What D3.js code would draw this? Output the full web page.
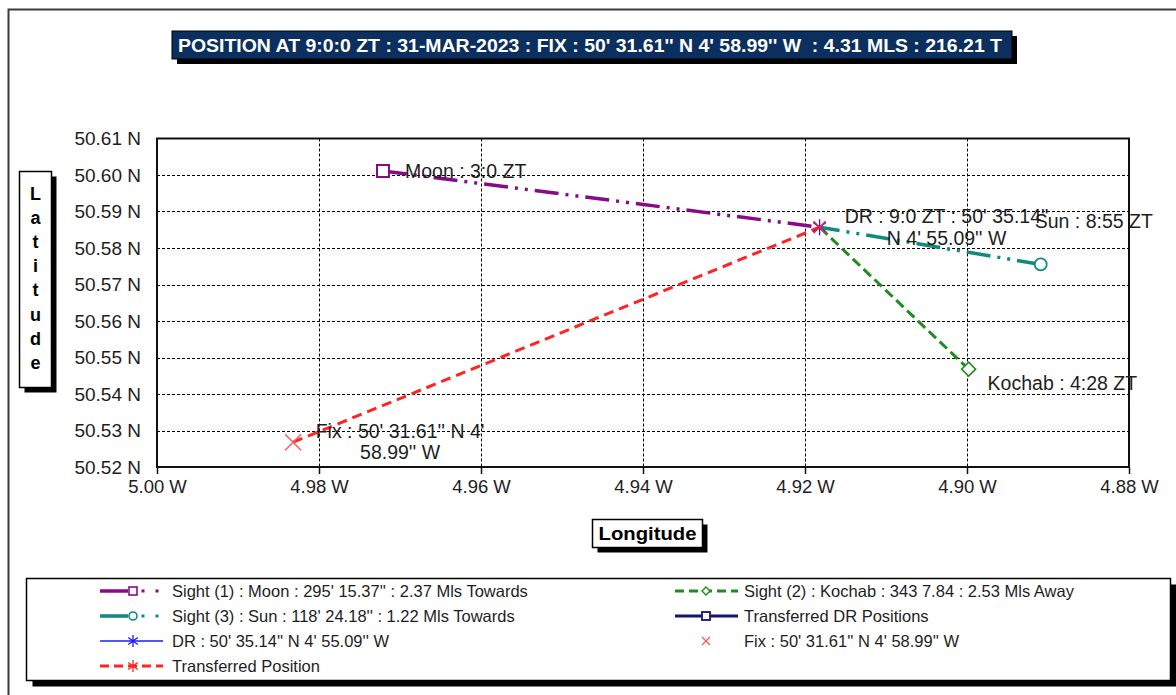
<!DOCTYPE html>
<html>
<head>
<meta charset="utf-8">
<script src="https://cdn.jsdelivr.net/npm/d3@7/dist/d3.min.js"></script>
<style>
  body { margin: 0; background: #fff; }
  svg { display: block; font-family: Arial, "Liberation Sans", sans-serif; }
  text { white-space: pre; }
</style>
</head>
<body>
<svg id="chart" width="1176" height="695"></svg>
<script>
// ---- data ----
const lonTicks = [5.00, 4.98, 4.96, 4.94, 4.92, 4.90, 4.88];
const latTicks = [50.52, 50.53, 50.54, 50.55, 50.56, 50.57, 50.58, 50.59, 50.60, 50.61];

const sightNames  = ["Moon", "Kochab", "Sun"];
const sightLon    = [4.9721, 4.8998, 4.8909];
const sightLat    = [50.6011, 50.5468, 50.5755];
const sightLabels = ["Moon : 3:0 ZT", "Kochab : 4:28 ZT", "Sun : 8:55 ZT"];

const drLon = 4.9182, drLat = 50.5857;
const fixLon = 4.9832, fixLat = 50.5268;
const drLabel  = ["DR : 9:0 ZT : 50' 35.14''", "N 4' 55.09'' W"];
const fixLabel = ["Fix : 50' 31.61'' N 4'", "58.99'' W"];

const titleText = "POSITION AT 9:0:0 ZT : 31-MAR-2023 : FIX : 50' 31.61'' N 4' 58.99'' W  : 4.31 MLS : 216.21 T";

const legendLeft = [
  "Sight (1) : Moon : 295' 15.37'' : 2.37 Mls Towards",
  "Sight (3) : Sun : 118' 24.18'' : 1.22 Mls Towards",
  "DR : 50' 35.14'' N 4' 55.09'' W",
  "Transferred Position"
];
const legendRight = [
  "Sight (2) : Kochab : 343 7.84 : 2.53 Mls Away",
  "Transferred DR Positions",
  "Fix : 50' 31.61'' N 4' 58.99'' W"
];

// ---- styles ----
const C = {
  moon: "#870a87", kochab: "#1f8c1f", sun: "#0f8a7e", dr: "#1a1aff",
  red: "#ff2424", fix: "#ff5a5a", navy: "#14146e", text: "#1e1e1e"
};
const dashDotDot = "24,7,3,7,3,7";

const svg = d3.select("#chart");
const x = d3.scaleLinear().domain([5.00, 4.88]).range([157, 1129]);
const y = d3.scaleLinear().domain([50.52, 50.61]).range([467, 138.5]);

// outer frame
svg.append("rect").attr("x", 8.5).attr("y", 9.5).attr("width", 1200).attr("height", 720)
  .attr("fill", "#fff").attr("stroke", "#3a3a3a").attr("stroke-width", 2);

// title banner
const tb = { x: 172, y: 31, w: 840, h: 28 };
svg.append("rect").attr("x", tb.x + 5).attr("y", tb.y + 5).attr("width", tb.w).attr("height", tb.h).attr("fill", "#000");
svg.append("rect").attr("x", tb.x).attr("y", tb.y).attr("width", tb.w).attr("height", tb.h)
  .attr("fill", "#0b2f5e").attr("stroke", "#000").attr("stroke-width", 1);
svg.append("text").attr("x", tb.x + 6).attr("y", tb.y + 21)
  .attr("font-family", "'Liberation Sans Narrow', 'Arial Narrow', Arial, sans-serif")
  .attr("font-weight", "bold").attr("font-size", 19).attr("fill", "#fff")
  .attr("textLength", 824).attr("lengthAdjust", "spacingAndGlyphs")
  .text(titleText);

// grid
const grid = svg.append("g").attr("stroke", "#000").attr("stroke-width", 1).attr("stroke-dasharray", "3,2");
grid.selectAll(".gx").data(lonTicks.slice(1, -1)).join("line")
  .attr("x1", d => Math.round(x(d)) + 0.5).attr("x2", d => Math.round(x(d)) + 0.5)
  .attr("y1", y(50.61)).attr("y2", y(50.52));
grid.selectAll(".gy").data(latTicks.slice(1, -1)).join("line")
  .attr("y1", d => Math.round(y(d)) + 0.5).attr("y2", d => Math.round(y(d)) + 0.5)
  .attr("x1", x(5.00)).attr("x2", x(4.88));

// axes
const xAxis = d3.axisBottom(x).tickValues(lonTicks).tickSize(7).tickPadding(6)
  .tickFormat(d => d.toFixed(2) + " W");
const yAxis = d3.axisLeft(y).tickValues(latTicks).tickSize(0).tickPadding(16)
  .tickFormat(d => d.toFixed(2) + " N");

const gx = svg.append("g").attr("transform", `translate(0,${y(50.52)})`).call(xAxis);
const gy = svg.append("g").attr("transform", `translate(${x(5.00)},0)`).call(yAxis);
[gx, gy].forEach(g => {
  g.select(".domain").remove();
  g.selectAll("text").attr("fill", C.text).attr("font-family", "Arial, 'Liberation Sans', sans-serif");
  g.selectAll("line").attr("stroke", "#111").attr("stroke-width", 1.5);
});
gx.selectAll("text").attr("font-size", 18.5);
gy.selectAll("text").attr("font-size", 19);

// plot frame
svg.append("rect").attr("x", x(5.00)).attr("y", y(50.61))
  .attr("width", x(4.88) - x(5.00)).attr("height", y(50.52) - y(50.61))
  .attr("fill", "none").attr("stroke", "#111").attr("stroke-width", 2);

// axis titles (boxed with drop shadow)
function shadowBox(bx, by, bw, bh) {
  svg.append("rect").attr("x", bx + 5).attr("y", by + 5).attr("width", bw).attr("height", bh).attr("fill", "#000");
  svg.append("rect").attr("x", bx).attr("y", by).attr("width", bw).attr("height", bh)
    .attr("fill", "#fff").attr("stroke", "#000").attr("stroke-width", 1.5);
}
shadowBox(19.5, 171.5, 32, 216);
const latLetters = "Latitude".split("");
svg.append("g").selectAll("text").data(latLetters).join("text")
  .attr("x", 35.5).attr("y", (d, i) => 200 + i * 24.1)
  .attr("text-anchor", "middle").attr("font-weight", "bold").attr("font-size", 18)
  .attr("fill", "#000").text(d => d);

shadowBox(592.5, 519.5, 110, 28);
svg.append("text").attr("x", 647.5).attr("y", 540).attr("text-anchor", "middle")
  .attr("font-weight", "bold").attr("font-size", 18).attr("fill", "#000")
  .attr("textLength", 98).attr("lengthAdjust", "spacingAndGlyphs").text("Longitude");

// ---- lines of position ----
const line = d3.line().x(d => x(d[0])).y(d => y(d[1]));
const lineStyles = [
  { color: C.moon, dash: dashDotDot, w: 3.5 },
  { color: C.kochab, dash: "10,5", w: 3 },
  { color: C.sun, dash: dashDotDot, w: 3.5 }
];
const plot = svg.append("g");
sightNames.forEach((n, i) => {
  plot.append("path")
    .datum([[sightLon[i], sightLat[i]], [drLon, drLat]])
    .attr("d", line).attr("fill", "none")
    .attr("stroke", lineStyles[i].color).attr("stroke-width", lineStyles[i].w)
    .attr("stroke-dasharray", lineStyles[i].dash);
});
// transferred position: fix -> DR
plot.append("path").datum([[fixLon, fixLat], [drLon, drLat]])
  .attr("d", line).attr("fill", "none").attr("stroke", C.red)
  .attr("stroke-width", 3).attr("stroke-dasharray", "10,6");

// markers
function square(g, cx, cy, s, col, sw) {
  g.append("rect").attr("x", cx - s / 2).attr("y", cy - s / 2).attr("width", s).attr("height", s)
    .attr("fill", "#fff").attr("stroke", col).attr("stroke-width", sw);
}
function circle(g, cx, cy, r, col, sw) {
  g.append("circle").attr("cx", cx).attr("cy", cy).attr("r", r)
    .attr("fill", "#fff").attr("stroke", col).attr("stroke-width", sw);
}
function diamond(g, cx, cy, r, col, sw) {
  g.append("path").attr("d", `M${cx},${cy - r}L${cx + r},${cy}L${cx},${cy + r}L${cx - r},${cy}Z`)
    .attr("fill", "#fff").attr("stroke", col).attr("stroke-width", sw);
}
function cross(g, cx, cy, r, col, sw) {
  g.append("path").attr("d", `M${cx - r},${cy - r}L${cx + r},${cy + r}M${cx - r},${cy + r}L${cx + r},${cy - r}`)
    .attr("stroke", col).attr("stroke-width", sw).attr("fill", "none");
}
function asterisk(g, cx, cy, r, col, sw) {
  g.append("path").attr("d", `M${cx},${cy - r}L${cx},${cy + r}M${cx - r * 0.8},${cy - r * 0.6}L${cx + r * 0.8},${cy + r * 0.6}M${cx - r * 0.8},${cy + r * 0.6}L${cx + r * 0.8},${cy - r * 0.6}`)
    .attr("stroke", col).attr("stroke-width", sw).attr("fill", "none");
}

square(plot, x(sightLon[0]), y(sightLat[0]), 12, C.moon, 2);
diamond(plot, x(sightLon[1]), y(sightLat[1]), 7, C.kochab, 1.6);
circle(plot, x(sightLon[2]), y(sightLat[2]), 6, C.sun, 1.8);
asterisk(plot, x(drLon), y(drLat), 8, C.dr, 1.3);
cross(plot, x(drLon), y(drLat), 6, C.red, 1.6);
cross(plot, x(fixLon), y(fixLat), 8, C.fix, 1.4);

// point labels
const lab = svg.append("g").attr("font-size", 19.5).attr("fill", C.text);
const labOffsets = [[22, 7], [19, 21], [-6, -36]];
sightLabels.forEach((t, i) => {
  lab.append("text").attr("x", x(sightLon[i]) + labOffsets[i][0]).attr("y", y(sightLat[i]) + labOffsets[i][1]).text(t);
});
drLabel.forEach((t, i) => {
  lab.append("text").attr("x", x(drLon) + 127).attr("y", y(drLat) - 4 + i * 22)
    .attr("text-anchor", "middle").text(t);
});
fixLabel.forEach((t, i) => {
  lab.append("text").attr("x", x(fixLon) + 107).attr("y", y(fixLat) - 4 + i * 21)
    .attr("text-anchor", "middle").text(t);
});

// ---- legend ----
const lg = { x: 26.5, y: 578.5, w: 1144, h: 102 };
svg.append("rect").attr("x", lg.x + 6).attr("y", lg.y + 6).attr("width", lg.w).attr("height", lg.h).attr("fill", "#000");
svg.append("rect").attr("x", lg.x).attr("y", lg.y).attr("width", lg.w).attr("height", lg.h)
  .attr("fill", "#fff").attr("stroke", "#000").attr("stroke-width", 1.5);

const rowY = i => 591 + i * 25;
const leg = svg.append("g");
const sx1 = 100, sx2 = 675;   // symbol starts for the two columns

function legText(tx, ty, t) {
  leg.append("text").attr("x", tx).attr("y", ty + 6).attr("font-size", 16.5).attr("fill", C.text).text(t);
}
function dashDotSym(col, ty, markFn) {
  leg.append("line").attr("x1", sx1).attr("x2", sx1 + 28).attr("y1", ty).attr("y2", ty)
    .attr("stroke", col).attr("stroke-width", 3.5);
  [43, 57].forEach(dx => leg.append("rect").attr("x", sx1 + dx - 1.5).attr("y", ty - 1.5)
    .attr("width", 3).attr("height", 3).attr("fill", col));
  markFn(leg, sx1 + 33, ty);
}
// column 1
dashDotSym(C.moon, rowY(0), (g, cx, cy) => square(g, cx, cy, 8, C.moon, 1.6));
legText(172, rowY(0), legendLeft[0]);
dashDotSym(C.sun, rowY(1), (g, cx, cy) => circle(g, cx, cy, 4, C.sun, 1.6));
legText(172, rowY(1), legendLeft[1]);
leg.append("line").attr("x1", sx1).attr("x2", sx1 + 63).attr("y1", rowY(2)).attr("y2", rowY(2))
  .attr("stroke", C.dr).attr("stroke-width", 1.3);
asterisk(leg, sx1 + 33, rowY(2), 6, C.dr, 1.3);
legText(172, rowY(2), legendLeft[2]);
leg.append("line").attr("x1", sx1).attr("x2", sx1 + 63).attr("y1", rowY(3)).attr("y2", rowY(3))
  .attr("stroke", C.red).attr("stroke-width", 3).attr("stroke-dasharray", "9,5");
asterisk(leg, sx1 + 33, rowY(3), 6, C.red, 1.3);
legText(172, rowY(3), legendLeft[3]);

// column 2
leg.append("line").attr("x1", sx2).attr("x2", sx2 + 63).attr("y1", rowY(0)).attr("y2", rowY(0))
  .attr("stroke", C.kochab).attr("stroke-width", 3).attr("stroke-dasharray", "9,5");
diamond(leg, sx2 + 31, rowY(0), 4, C.kochab, 1.4);
legText(744, rowY(0), legendRight[0]);
leg.append("line").attr("x1", sx2).attr("x2", sx2 + 63).attr("y1", rowY(1)).attr("y2", rowY(1))
  .attr("stroke", C.navy).attr("stroke-width", 3);
square(leg, sx2 + 31, rowY(1), 8, C.navy, 1.8);
legText(744, rowY(1), legendRight[1]);
cross(leg, sx2 + 31, rowY(2), 4, C.fix, 1.3);
legText(744, rowY(2), legendRight[2]);
</script>
</body>
</html>
